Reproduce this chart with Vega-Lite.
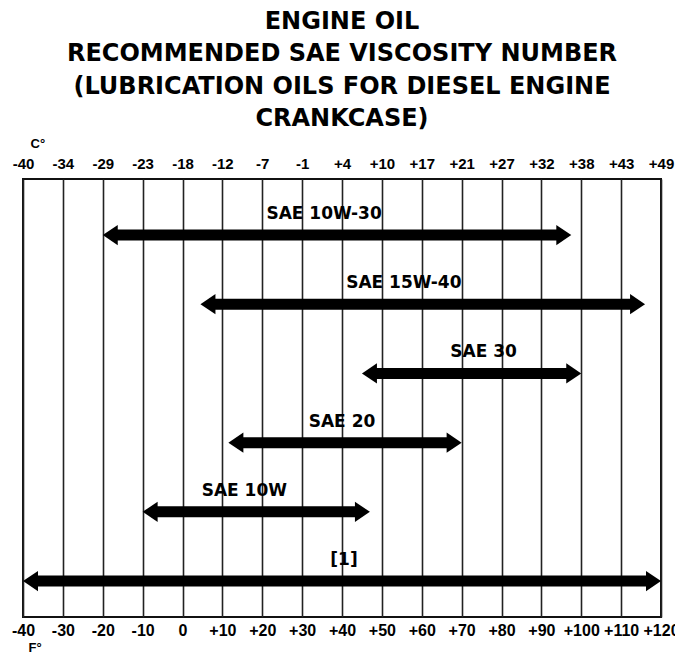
{
  "$schema": "https://vega.github.io/schema/vega-lite/v6.json",
  "width": 638,
  "height": 438,
  "autosize": {"type": "none"},
  "padding": {"left": 23, "top": 179, "right": 14, "bottom": 37},
  "background": "white",
  "title": {
    "text": ["ENGINE OIL", "RECOMMENDED SAE VISCOSITY NUMBER", "(LUBRICATION OILS FOR DIESEL ENGINE", "CRANKCASE)"],
    "font": "DejaVu Sans",
    "fontSize": 24,
    "fontWeight": "bold",
    "lineHeight": 32.5,
    "color": "#000000",
    "anchor": "middle",
    "offset": 6
  },
  "data": {
    "values": [
      {"grade": "SAE 10W-30", "row": 0, "lo": -20, "hi": 97.5, "lx": 35.5},
      {"grade": "SAE 15W-40", "row": 1, "lo": 4.5, "hi": 116, "lx": 55.5},
      {"grade": "SAE 30", "row": 2, "lo": 45, "hi": 100, "lx": 75.5},
      {"grade": "SAE 20", "row": 3, "lo": 11.5, "hi": 70, "lx": 40},
      {"grade": "SAE 10W", "row": 4, "lo": -10, "hi": 47, "lx": 15.5},
      {"grade": "[1]", "row": 5, "lo": -40, "hi": 120, "lx": 40.5}
    ]
  },
  "layer": [
    {
      "mark": {"type": "rule", "strokeWidth": 11, "color": "#000000", "strokeCap": "butt", "xOffset": 9, "x2Offset": -9},
      "encoding": {
        "x": {
          "field": "lo", "type": "quantitative",
          "scale": {"domain": [-40, 120], "nice": false, "zero": false},
          "axis": {
            "orient": "bottom",
            "values": [-40, -30, -20, -10, 0, 10, 20, 30, 40, 50, 60, 70, 80, 90, 100, 110, 120],
            "labelExpr": "datum.value > 0 ? '+' + datum.value : '' + datum.value",
            "grid": true, "gridColor": "#222222", "gridWidth": 1.6, "gridOpacity": 1,
            "domain": false, "ticks": false, "tickSize": 0,
            "labelPadding": 5, "labelFont": "Liberation Sans", "labelFontWeight": "bold", "labelFontSize": 16,
            "labelColor": "#000000", "labelOverlap": false, "labelBound": false, "labelFlush": false,
            "title": "F°", "titleFont": "Liberation Sans", "titleFontWeight": "bold", "titleFontSize": 13,
            "titleColor": "#000000", "titleAngle": 0, "titleAlign": "left", "titleBaseline": "middle",
            "titleX": 5, "titleY": 30
          }
        },
        "x2": {"field": "hi"},
        "y": {"field": "row", "type": "quantitative", "scale": {"domain": [-0.81, 5.52], "reverse": true, "nice": false, "zero": false}, "axis": null}
      }
    },
    {
      "mark": {"type": "point", "shape": "M0,0L2,-1.35L2,1.35Z", "size": 225, "filled": true, "opacity": 1, "color": "#000000", "strokeWidth": 0},
      "encoding": {
        "x": {
          "field": "lo", "type": "quantitative",
          "axis": {
            "orient": "top",
            "values": [-40, -30, -20, -10, 0, 10, 20, 30, 40, 50, 60, 70, 80, 90, 100, 110, 120],
            "labelExpr": "['-40','-34','-29','-23','-18','-12','-7','-1','+4','+10','+17','+21','+27','+32','+38','+43','+49'][round((datum.value+40)/10)]",
            "grid": false, "domain": false, "ticks": false, "tickSize": 0,
            "labelPadding": 8, "labelFont": "Liberation Sans", "labelFontWeight": "bold", "labelFontSize": 15,
            "labelColor": "#000000", "labelOverlap": false, "labelBound": false, "labelFlush": false,
            "title": "C°", "titleFont": "Liberation Sans", "titleFontWeight": "bold", "titleFontSize": 13,
            "titleColor": "#000000", "titleAngle": 0, "titleAlign": "left", "titleBaseline": "middle",
            "titleX": 7, "titleY": -36
          }
        },
        "y": {"field": "row", "type": "quantitative"}
      }
    },
    {
      "mark": {"type": "point", "shape": "M0,0L-2,-1.35L-2,1.35Z", "size": 225, "filled": true, "opacity": 1, "color": "#000000", "strokeWidth": 0},
      "encoding": {
        "x": {"field": "hi", "type": "quantitative", "axis": null},
        "y": {"field": "row", "type": "quantitative"}
      }
    },
    {
      "mark": {"type": "text", "font": "DejaVu Sans", "fontWeight": "bold", "fontSize": 17, "color": "#000000", "baseline": "middle", "align": "center", "yOffset": -21},
      "encoding": {
        "x": {"field": "lx", "type": "quantitative", "axis": null},
        "y": {"field": "row", "type": "quantitative"},
        "text": {"field": "grade"}
      }
    }
  ],
  "resolve": {"axis": {"x": "independent"}},
  "config": {
    "view": {"stroke": "#111111", "strokeWidth": 2}
  }
}
